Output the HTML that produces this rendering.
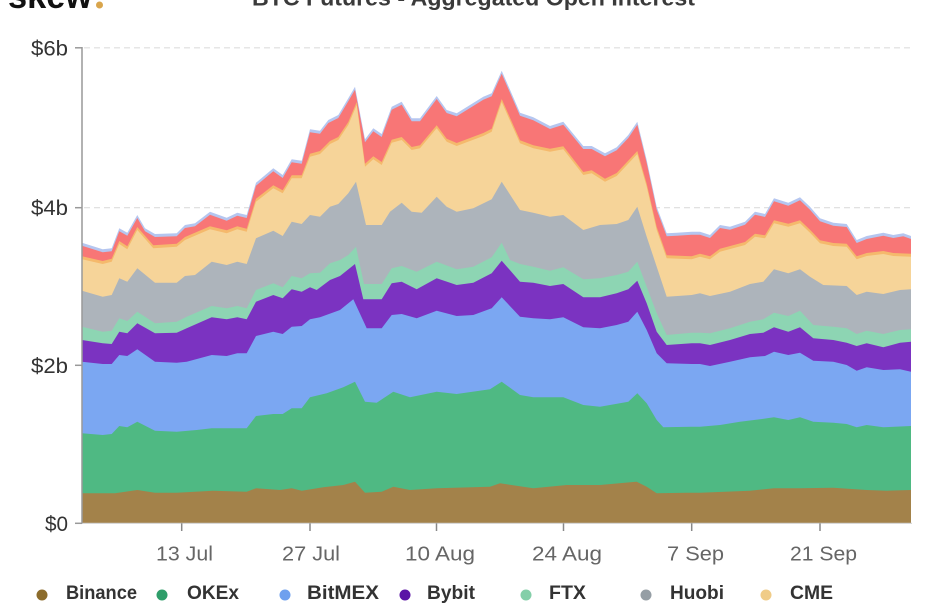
<!DOCTYPE html>
<html>
<head>
<meta charset="utf-8">
<style>
  html,body{margin:0;padding:0;background:#fff;}
  svg{display:block;}
  text{font-family:"Liberation Sans",sans-serif;}
</style>
</head>
<body>
<svg width="935" height="605" viewBox="0 0 935 605" xmlns="http://www.w3.org/2000/svg">
  <defs>
    <clipPath id="plot"><rect x="82" y="0" width="830" height="523.3"/></clipPath>
  </defs>

  <!-- logo -->
  <text x="8" y="8" font-size="36" font-weight="bold" fill="#111" textLength="84" lengthAdjust="spacingAndGlyphs">skew</text>
  <circle cx="99.5" cy="5" r="3.5" fill="#d9a54c"/>

  <!-- title -->
  <text x="252" y="5.5" font-size="22" font-weight="bold" fill="#3a3a3a" textLength="443" lengthAdjust="spacingAndGlyphs">BTC Futures - Aggregated Open Interest</text>

  <!-- gridlines -->
  <g stroke="#dddddd" stroke-width="1.2" stroke-dasharray="6,4">
    <line x1="84" y1="47.8" x2="912" y2="47.8"/>
    <line x1="84" y1="207.7" x2="912" y2="207.7"/>
    <line x1="84" y1="365.3" x2="912" y2="365.3"/>
  </g>

  <!-- stacked areas -->
  <g clip-path="url(#plot)">
    <polygon fill="#b5c6f0" points="82,242.7 102.7,249.3 111.7,248.3 119.3,228.3 127.3,232.7 137.3,215 145,228.3 155,234 176.7,233.3 185,225 195,223.3 210,211.7 226.7,217.7 237.3,212.7 246.7,215 256,182.7 273.3,168.3 282.7,175 291.7,159.3 301.7,160.7 310,129.3 320,130.7 328.3,120 338.3,115 348.3,98.3 355,86.7 365,139.3 373.3,128.3 381.7,134 391.7,106.7 401.7,101.7 411.7,118.3 420,118.3 436.7,96 446.7,110 456.7,113.3 483.3,96.7 491.7,93.3 501.7,70.7 520,112.7 533.3,117.3 550,126 563.3,121.7 583.3,146 591.7,146 605,153.3 616.7,147.3 628.3,135 637.3,121.7 646.7,160 656.7,206.7 666.7,233.3 676.7,232.7 691.7,231.7 700,231.7 710,235 720,225 730,226.7 745,221.7 755,211.7 765,214 774,198.3 788.3,202.7 800,197.3 810,206.7 820,218.3 833.3,222.7 846.7,224 856.7,240 866.7,236 883.3,232.7 893.3,235 903.3,233.3 911,236 911,530 82,530"/>
    <polygon fill="#f87676" transform="translate(0,3)" points="82,242.7 102.7,249.3 111.7,248.3 119.3,228.3 127.3,232.7 137.3,215 145,228.3 155,234 176.7,233.3 185,225 195,223.3 210,211.7 226.7,217.7 237.3,212.7 246.7,215 256,182.7 273.3,168.3 282.7,175 291.7,159.3 301.7,160.7 310,129.3 320,130.7 328.3,120 338.3,115 348.3,98.3 355,86.7 365,139.3 373.3,128.3 381.7,134 391.7,106.7 401.7,101.7 411.7,118.3 420,118.3 436.7,96 446.7,110 456.7,113.3 483.3,96.7 491.7,93.3 501.7,70.7 520,112.7 533.3,117.3 550,126 563.3,121.7 583.3,146 591.7,146 605,153.3 616.7,147.3 628.3,135 637.3,121.7 646.7,160 656.7,206.7 666.7,233.3 676.7,232.7 691.7,231.7 700,231.7 710,235 720,225 730,226.7 745,221.7 755,211.7 765,214 774,198.3 788.3,202.7 800,197.3 810,206.7 820,218.3 833.3,222.7 846.7,224 856.7,240 866.7,236 883.3,232.7 893.3,235 903.3,233.3 911,236 911,530 82,530"/>
    <polygon fill="#f5b96c" transform="translate(0,-3)" points="82,259.3 102.7,264 111.7,261.7 119.3,244 127.3,249.3 137.3,230 153.3,248.3 176.7,246.7 185,240 210,229.3 226.7,233.3 237.3,229.3 246.7,231.7 256,201.7 273.3,188.3 282.7,193.3 291.7,178.3 301.7,178.3 310,156.7 320,154 330,144 338.3,140 348.3,125 356.7,105 365,166.7 373.3,159.3 381.7,165 391.7,142.7 401.7,140 411.7,150 420,148.3 436.7,128.3 446.7,141.7 456.7,146 483.3,136 491.7,131.7 501.7,102 520,143.3 533.3,148.3 550,151.7 563.3,149.3 583.3,175 591.7,173.3 605,181.7 616.7,176 637.3,154 646.7,186.7 656.7,230 666.7,258.3 691.7,259.3 700,256.7 710,259.3 720,251.7 745,245 755,236.7 765,238.3 774,223.3 788.3,226.7 800,223.3 810,232.7 820,243.3 833.3,246 846.7,246.7 856.7,259.3 866.7,256 883.3,254 893.3,256 911,256.7 911,530 82,530"/>
    <polygon fill="#f6d499" points="82,259.3 102.7,264 111.7,261.7 119.3,244 127.3,249.3 137.3,230 153.3,248.3 176.7,246.7 185,240 210,229.3 226.7,233.3 237.3,229.3 246.7,231.7 256,201.7 273.3,188.3 282.7,193.3 291.7,178.3 301.7,178.3 310,156.7 320,154 330,144 338.3,140 348.3,125 356.7,105 365,166.7 373.3,159.3 381.7,165 391.7,142.7 401.7,140 411.7,150 420,148.3 436.7,128.3 446.7,141.7 456.7,146 483.3,136 491.7,131.7 501.7,102 520,143.3 533.3,148.3 550,151.7 563.3,149.3 583.3,175 591.7,173.3 605,181.7 616.7,176 637.3,154 646.7,186.7 656.7,230 666.7,258.3 691.7,259.3 700,256.7 710,259.3 720,251.7 745,245 755,236.7 765,238.3 774,223.3 788.3,226.7 800,223.3 810,232.7 820,243.3 833.3,246 846.7,246.7 856.7,259.3 866.7,256 883.3,254 893.3,256 911,256.7 911,530 82,530"/>
    <polygon fill="#adb4bb" points="82,290.7 102.7,296.7 111.7,295 119.3,278.3 127.3,281.7 137.3,268.3 155,282.7 176.7,282.7 185,276 195,275 211.7,261.7 226.7,265 237.3,261.7 246.7,264 256,238.3 273.3,230.7 282.7,236 291.7,221.7 301.7,224 310,215 320,216.7 330,206.7 338.3,204 348.3,193.3 356,181.7 366,225 381.7,225 390,211.7 401.7,202.7 411.7,211.7 421.7,212.7 436.7,196.7 446.7,206.7 456.7,211.7 473.3,208.3 491.7,199.3 501.7,181.7 520,210 533.3,212.7 550,216.7 563.3,215 583.3,230 600,225 616.7,224 628.3,220 637.3,206.7 646.7,236.7 656.7,266.7 666.7,296.7 691.7,295 700,293.3 710,296 730,291.7 750,284 763.3,281.7 774,269.3 788.3,273.3 800,269.3 810,276.7 823.3,285 846.7,286 856.7,295 866.7,291.7 883.3,294 900,290 911,289.3 911,530 82,530"/>
    <polygon fill="#8dd5b3" points="82,326.7 102.7,331.7 111.7,330.7 119.3,318.3 127.3,321 137.3,311.7 155,323.3 176.7,321.7 186.7,316.7 211.7,306 226.7,308.3 237.3,306 246.7,308.3 256,290 273.3,283.3 282.7,287.3 291.7,276 301.7,278.3 310,273.3 320,272.7 330,263.3 340,260 348.3,255 356,246.7 364,284 381.7,284 391.7,268.3 401.7,266 416.7,271.7 436.7,261.7 456.7,269.3 473.3,266.7 491.7,257.3 501.7,242.7 510,260 520,264 533.3,266.7 550,270.7 563.3,267.3 583.3,279.3 600,278.3 616.7,275 628.3,271.7 637.3,261.7 646.7,286.7 656.7,313.3 666.7,335 691.7,332.7 700,332.7 710,333.3 730,328.3 750,321.7 763.3,319.3 774,312.7 788.3,316 800,310.7 813.3,325 833.3,326.7 846.7,328.3 856.7,334 866.7,330.7 883.3,334 900,330 911,329.3 911,530 82,530"/>
    <polygon fill="#7b33c1" points="82,340 102.7,343.3 111.7,344 119.3,331.7 127.3,333.3 137.3,323.3 155,333.3 176.7,332.7 186.7,328.3 211.7,317.3 226.7,319.3 237.3,317.3 246.7,319.3 256,301.7 273.3,295 282.7,298.3 291.7,289.3 301.7,291.7 310,287.3 316.7,290 330,280 340,276 355,264 363.3,299.3 381.7,299.3 391.7,283.3 401.7,281.7 416.7,289.3 436.7,278.3 456.7,285 473.3,282.7 491.7,273.3 501.7,260.7 520,281.7 533.3,282.7 550,286 563.3,284 583.3,297.3 600,297.3 616.7,293.3 628.3,289.3 637.3,280.7 646.7,303.3 656.7,331.7 666.7,345 691.7,343.3 700,343.3 710,345 730,340 750,334 763.3,332.7 774,327.3 788.3,331.7 800,327.3 813.3,338.3 833.3,340 846.7,342.7 856.7,346 866.7,343.3 883.3,347.3 900,342.7 911,341.7 911,530 82,530"/>
    <polygon fill="#7ba7f2" points="82,361.7 102.7,364 111.7,364 119.3,355 127.3,356 137.3,349.3 155,361.7 176.7,362.7 186.7,361.7 211.7,355 226.7,356 237.3,353.3 246.7,353.3 256,336 273.3,331.7 282.7,334 291.7,326.7 301.7,326 310,319.3 320,317.3 340,310 353.3,299.3 366.7,328.3 381.7,328.3 391.7,315 401.7,314 416.7,318.3 436.7,310.7 456.7,316 473.3,315 491.7,308.3 501.7,297.3 520,316.7 533.3,318.3 550,319.3 563.3,317.3 583.3,327.3 600,328.3 616.7,325 628.3,321.7 637.3,311.7 646.7,330 656.7,353.3 666.7,363.3 691.7,364 700,364 710,366 730,361.7 750,357.3 765,356 774,351.7 788.3,355 800,352.7 813.3,360.7 833.3,361.7 846.7,365 856.7,370.7 866.7,367.3 883.3,370 900,369.3 911,371.7 911,530 82,530"/>
    <polygon fill="#4fb983" points="82,433.3 102.7,435 111.7,434 119.3,426 127.3,427.3 137.3,421.7 155,430.7 176.7,431.7 196.7,430 211.7,428.3 237.3,428.3 246.7,428.3 256,416 273.3,414 282.7,414 291.7,408.3 301.7,408.3 310,397.3 326.7,393.3 343.3,387.3 355,381.7 365,401.7 376.7,402.7 393.3,391.7 410,397.3 436.7,391.7 456.7,394 490,389.3 501.7,381.7 520,395 533.3,397.3 563.3,397.3 583.3,405 600,406.7 628.3,401.7 637.3,393.3 646.7,403.3 656.7,420 663.3,427.3 691.7,426.7 700,426.7 720,425 740,421.7 760,419.3 774,417.3 788.3,420 800,417.3 813.3,421.7 833.3,422.7 846.7,424 856.7,427.3 866.7,425 883.3,427.3 911,426 911,530 82,530"/>
    <polygon fill="#a3824a" points="82,493.3 115,493.3 137.3,490 155,492.7 176.7,492.7 213,490.7 246.7,491.7 256,488.3 280,490 291.7,488.3 301.7,490.7 323.3,487.3 343.3,485 355,481.7 365,492.7 381.7,491.7 393.3,486.7 410,490 436.7,488.3 490,486.7 500,483.3 533.3,488.3 566.7,485 600,485 636.7,481.7 646.7,486.7 656.7,493.3 686.7,492.7 700,492.7 750,490.7 774,488.3 800,488.3 833.3,487.7 866.7,490 886.7,490.7 911,490 911,530 82,530"/>
  </g>

  <!-- axes -->
  <line x1="82" y1="523.3" x2="912" y2="523.3" stroke="#cccccc" stroke-width="1"/>
  <line x1="82" y1="47" x2="82" y2="523.5" stroke="#999" stroke-width="1.5"/>
  <g stroke="#999" stroke-width="1.5">
    <line x1="75" y1="47.8" x2="82" y2="47.8"/>
    <line x1="75" y1="207.7" x2="82" y2="207.7"/>
    <line x1="75" y1="365.3" x2="82" y2="365.3"/>
    <line x1="75" y1="523.3" x2="82" y2="523.3"/>
  </g>
  <g stroke="#888" stroke-width="1.5">
    <line x1="181.7" y1="523.3" x2="181.7" y2="531"/>
    <line x1="310" y1="523.3" x2="310" y2="531"/>
    <line x1="436.5" y1="523.3" x2="436.5" y2="531"/>
    <line x1="563.5" y1="523.3" x2="563.5" y2="531"/>
    <line x1="691.7" y1="523.3" x2="691.7" y2="531"/>
    <line x1="820" y1="523.3" x2="820" y2="531"/>
  </g>

  <!-- y labels -->
  <g font-size="21" fill="#333">
    <text x="31" y="55.3" textLength="37" lengthAdjust="spacingAndGlyphs">$6b</text>
    <text x="31" y="215.2" textLength="37" lengthAdjust="spacingAndGlyphs">$4b</text>
    <text x="31" y="372.8" textLength="37" lengthAdjust="spacingAndGlyphs">$2b</text>
    <text x="45" y="530.8" textLength="23" lengthAdjust="spacingAndGlyphs">$0</text>
  </g>

  <!-- x labels -->
  <g font-size="20.5" fill="#666">
    <text x="156" y="560.5" textLength="57" lengthAdjust="spacingAndGlyphs">13 Jul</text>
    <text x="282" y="560.5" textLength="58" lengthAdjust="spacingAndGlyphs">27 Jul</text>
    <text x="405" y="560.5" textLength="70" lengthAdjust="spacingAndGlyphs">10 Aug</text>
    <text x="532" y="560.5" textLength="70" lengthAdjust="spacingAndGlyphs">24 Aug</text>
    <text x="667" y="560.5" textLength="57" lengthAdjust="spacingAndGlyphs">7 Sep</text>
    <text x="790" y="560.5" textLength="67" lengthAdjust="spacingAndGlyphs">21 Sep</text>
  </g>

  <!-- legend -->
  <g>
    <circle cx="42" cy="595" r="5.5" fill="#8c6c2c"/>
    <circle cx="162" cy="595" r="5.5" fill="#2f9e6a"/>
    <circle cx="285" cy="595" r="5.5" fill="#6fa0ee"/>
    <circle cx="405" cy="595" r="5.5" fill="#5b14a6"/>
    <circle cx="526" cy="595" r="5.5" fill="#84cfa9"/>
    <circle cx="646" cy="595" r="5.5" fill="#959ea5"/>
    <circle cx="766" cy="595" r="5.5" fill="#f0cc88"/>
  </g>
  <g font-size="19.5" font-weight="bold" fill="#333">
    <text x="66" y="599" textLength="71" lengthAdjust="spacingAndGlyphs">Binance</text>
    <text x="187" y="599" textLength="52" lengthAdjust="spacingAndGlyphs">OKEx</text>
    <text x="307" y="599" textLength="72" lengthAdjust="spacingAndGlyphs">BitMEX</text>
    <text x="427" y="599" textLength="48" lengthAdjust="spacingAndGlyphs">Bybit</text>
    <text x="549" y="599" textLength="37" lengthAdjust="spacingAndGlyphs">FTX</text>
    <text x="670" y="599" textLength="54" lengthAdjust="spacingAndGlyphs">Huobi</text>
    <text x="790" y="599" textLength="43" lengthAdjust="spacingAndGlyphs">CME</text>
  </g>
</svg>
</body>
</html>
